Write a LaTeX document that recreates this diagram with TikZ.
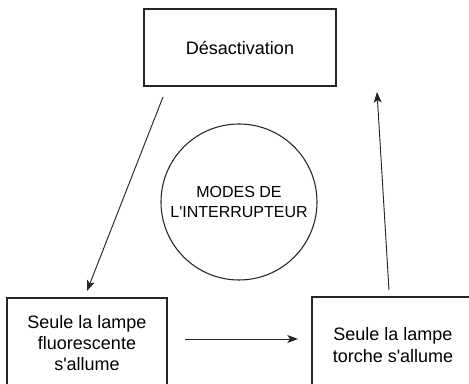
\documentclass[tikz,border=0pt]{standalone}
\usepackage{fontspec}
\setmainfont{Liberation Sans}
\usetikzlibrary{arrows.meta}
\begin{document}
\begin{tikzpicture}[x=0.75pt,y=-0.75pt,
  box/.style={draw=black!85, line width=0.8pt, align=center, inner sep=0pt,
    font=\fontsize{13.5}{16}\selectfont},
  modes/.style={draw=black!85, line width=0.8pt, circle, align=center, inner sep=0pt,
    minimum size=117pt, font=\fontsize{12}{14.3}\selectfont},
  conn/.style={draw=black!85, line width=0.7pt, -{Stealth[length=8pt,width=6pt,inset=2pt]}}]
\useasboundingbox (0,0) rectangle (469,384);
\clip (0,0) rectangle (469,384);
\node[box, minimum width=144pt, minimum height=57.75pt] (top) at (240,47.5) {Désactivation};
\node[box, minimum width=120pt, minimum height=67.5pt] (left) at (87,343) {Seule la lampe\\fluorescente\\s\textquotesingle allume};
\node[box, minimum width=121.5pt, minimum height=72pt] (right) at (393,345) {Seule la lampe\\torche s\textquotesingle allume};
\node[modes] (mid) at (239,202) {MODES DE\\L\textquotesingle INTERRUPTEUR};
\coordinate (a1s) at (163,97);
\coordinate (a1e) at (87,291);
\coordinate (a2s) at (185,339);
\coordinate (a2e) at (298,339);
\coordinate (a3s) at (389,290);
\coordinate (a3e) at (377,92);
\draw[conn] (a1s) -- (a1e);
\draw[conn] (a2s) -- (a2e);
\draw[conn] (a3s) -- (a3e);
\end{tikzpicture}
\end{document}
